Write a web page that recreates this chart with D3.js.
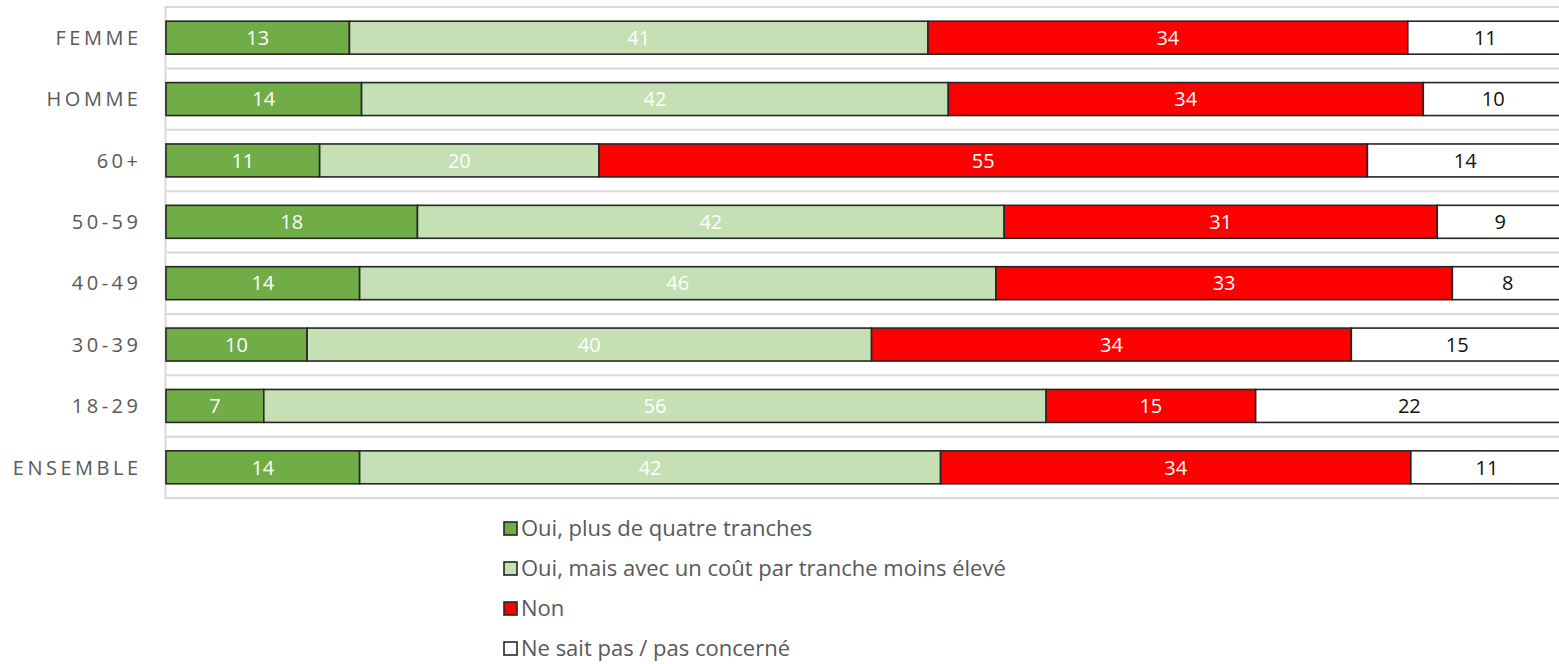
<!DOCTYPE html>
<html>
<head>
<meta charset="utf-8">
<script src="https://cdn.jsdelivr.net/npm/d3@7"></script>
<style>
  html, body { margin: 0; padding: 0; background: #fff; }
  svg { display: block; font-family: "Open Sans", "Noto Sans", sans-serif; }
</style>
</head>
<body>
<svg id="chart" width="1559" height="664"></svg>
<script>
// Groupes (top to bottom)
const categories = ["FEMME", "HOMME", "60+", "50-59", "40-49", "30-39", "18-29", "ENSEMBLE"];

// Réponses
const seriesNames = [
  "Oui, plus de quatre tranches",
  "Oui, mais avec un coût par tranche moins élevé",
  "Non",
  "Ne sait pas / pas concerné"
];

// Percentages per series, in category order
const ouiPlus   = [13, 14, 11, 18, 14, 10, 7, 14];
const ouiMoins  = [41, 42, 20, 42, 46, 40, 56, 42];
const non       = [34, 34, 55, 31, 33, 34, 15, 34];
const nsp       = [11, 10, 14, 9, 8, 15, 22, 11];

const seriesValues = [ouiPlus, ouiMoins, non, nsp];
const colors = ["#70AD47", "#C5E0B4", "#FF0000", "#FFFFFF"];
const labelColors = ["#FFFFFF", "#FFFFFF", "#FFFFFF", "#111111"];

const svg = d3.select("#chart");

const plotLeft = 166, plotTop = 7, plotBottom = 498;
// 100% stacked: each row spans the full width
const x = d3.scaleLinear().domain([0, 1]).range([plotLeft, 1563]);
const y = d3.scaleBand().domain(categories).range([plotTop, plotBottom])
  .paddingInner(0.463).paddingOuter(0.2315);

// Row table built from the series arrays, then stacked and normalised
const rows = categories.map((c, i) => {
  const r = { cat: c };
  seriesNames.forEach((s, k) => { r[s] = seriesValues[k][i]; });
  return r;
});
const stacked = d3.stack().keys(seriesNames).offset(d3.stackOffsetExpand)(rows);

// Horizontal separators between rows
const step = y.step();
const gridLines = d3.range(categories.length + 1).map(i => plotTop + i * step);
svg.append("g").selectAll("line").data(gridLines).join("line")
  .attr("x1", plotLeft - 1).attr("x2", 1559)
  .attr("y1", d => d).attr("y2", d => d)
  .attr("stroke", "#D9D9D9").attr("stroke-width", 2);

// Left edge of plot area
svg.append("line")
  .attr("x1", plotLeft - 0.5).attr("x2", plotLeft - 0.5)
  .attr("y1", plotTop - 1).attr("y2", plotBottom + 1)
  .attr("stroke", "#D9D9D9").attr("stroke-width", 2);

// Stacked bar segments
const layers = svg.append("g").selectAll("g").data(stacked).join("g")
  .attr("fill", (d, i) => colors[i]);

layers.selectAll("rect").data(d => d).join("rect")
  .attr("x", d => x(d[0]))
  .attr("y", d => y(d.data.cat))
  .attr("width", d => x(d[1]) - x(d[0]))
  .attr("height", y.bandwidth())
  .attr("stroke", "#262626")
  .attr("stroke-width", 1.6);

// Value labels centred in each segment (raw percentage)
const labels = svg.append("g").selectAll("g").data(stacked).join("g")
  .attr("fill", (d, i) => labelColors[i]);

labels.selectAll("text").data(d => d.map(p => ({ p, key: d.key }))).join("text")
  .attr("x", d => (x(d.p[0]) + x(d.p[1])) / 2)
  .attr("y", d => y(d.p.data.cat) + y.bandwidth() / 2)
  .attr("dy", "0.36em")
  .attr("text-anchor", "middle")
  .attr("font-size", 20)
  .text(d => d.p.data[d.key]);

// Category axis
const yAxis = svg.append("g")
  .attr("transform", `translate(141.5,0)`)
  .call(d3.axisLeft(y).tickSize(0).tickPadding(0));
yAxis.select(".domain").remove();
yAxis.selectAll("text")
  .attr("font-size", 20)
  .attr("font-family", "'Open Sans', 'Noto Sans', sans-serif")
  .attr("fill", "#595959")
  .attr("letter-spacing", "3.5px")
  .attr("dy", "0.36em");

// Legend
const legend = svg.append("g").attr("transform", "translate(504,528.5)");
const items = legend.selectAll("g").data(seriesNames).join("g")
  .attr("transform", (d, i) => `translate(0,${i * 40})`);
items.append("rect")
  .attr("x", 0).attr("y", -6.5).attr("width", 13).attr("height", 13)
  .attr("fill", (d, i) => colors[i])
  .attr("stroke", "#262626").attr("stroke-width", 1.6);
items.append("text")
  .attr("x", 17).attr("y", 0).attr("dy", "0.36em")
  .attr("font-size", 22)
  .attr("fill", "#595959")
  .text(d => d);
</script>
</body>
</html>
